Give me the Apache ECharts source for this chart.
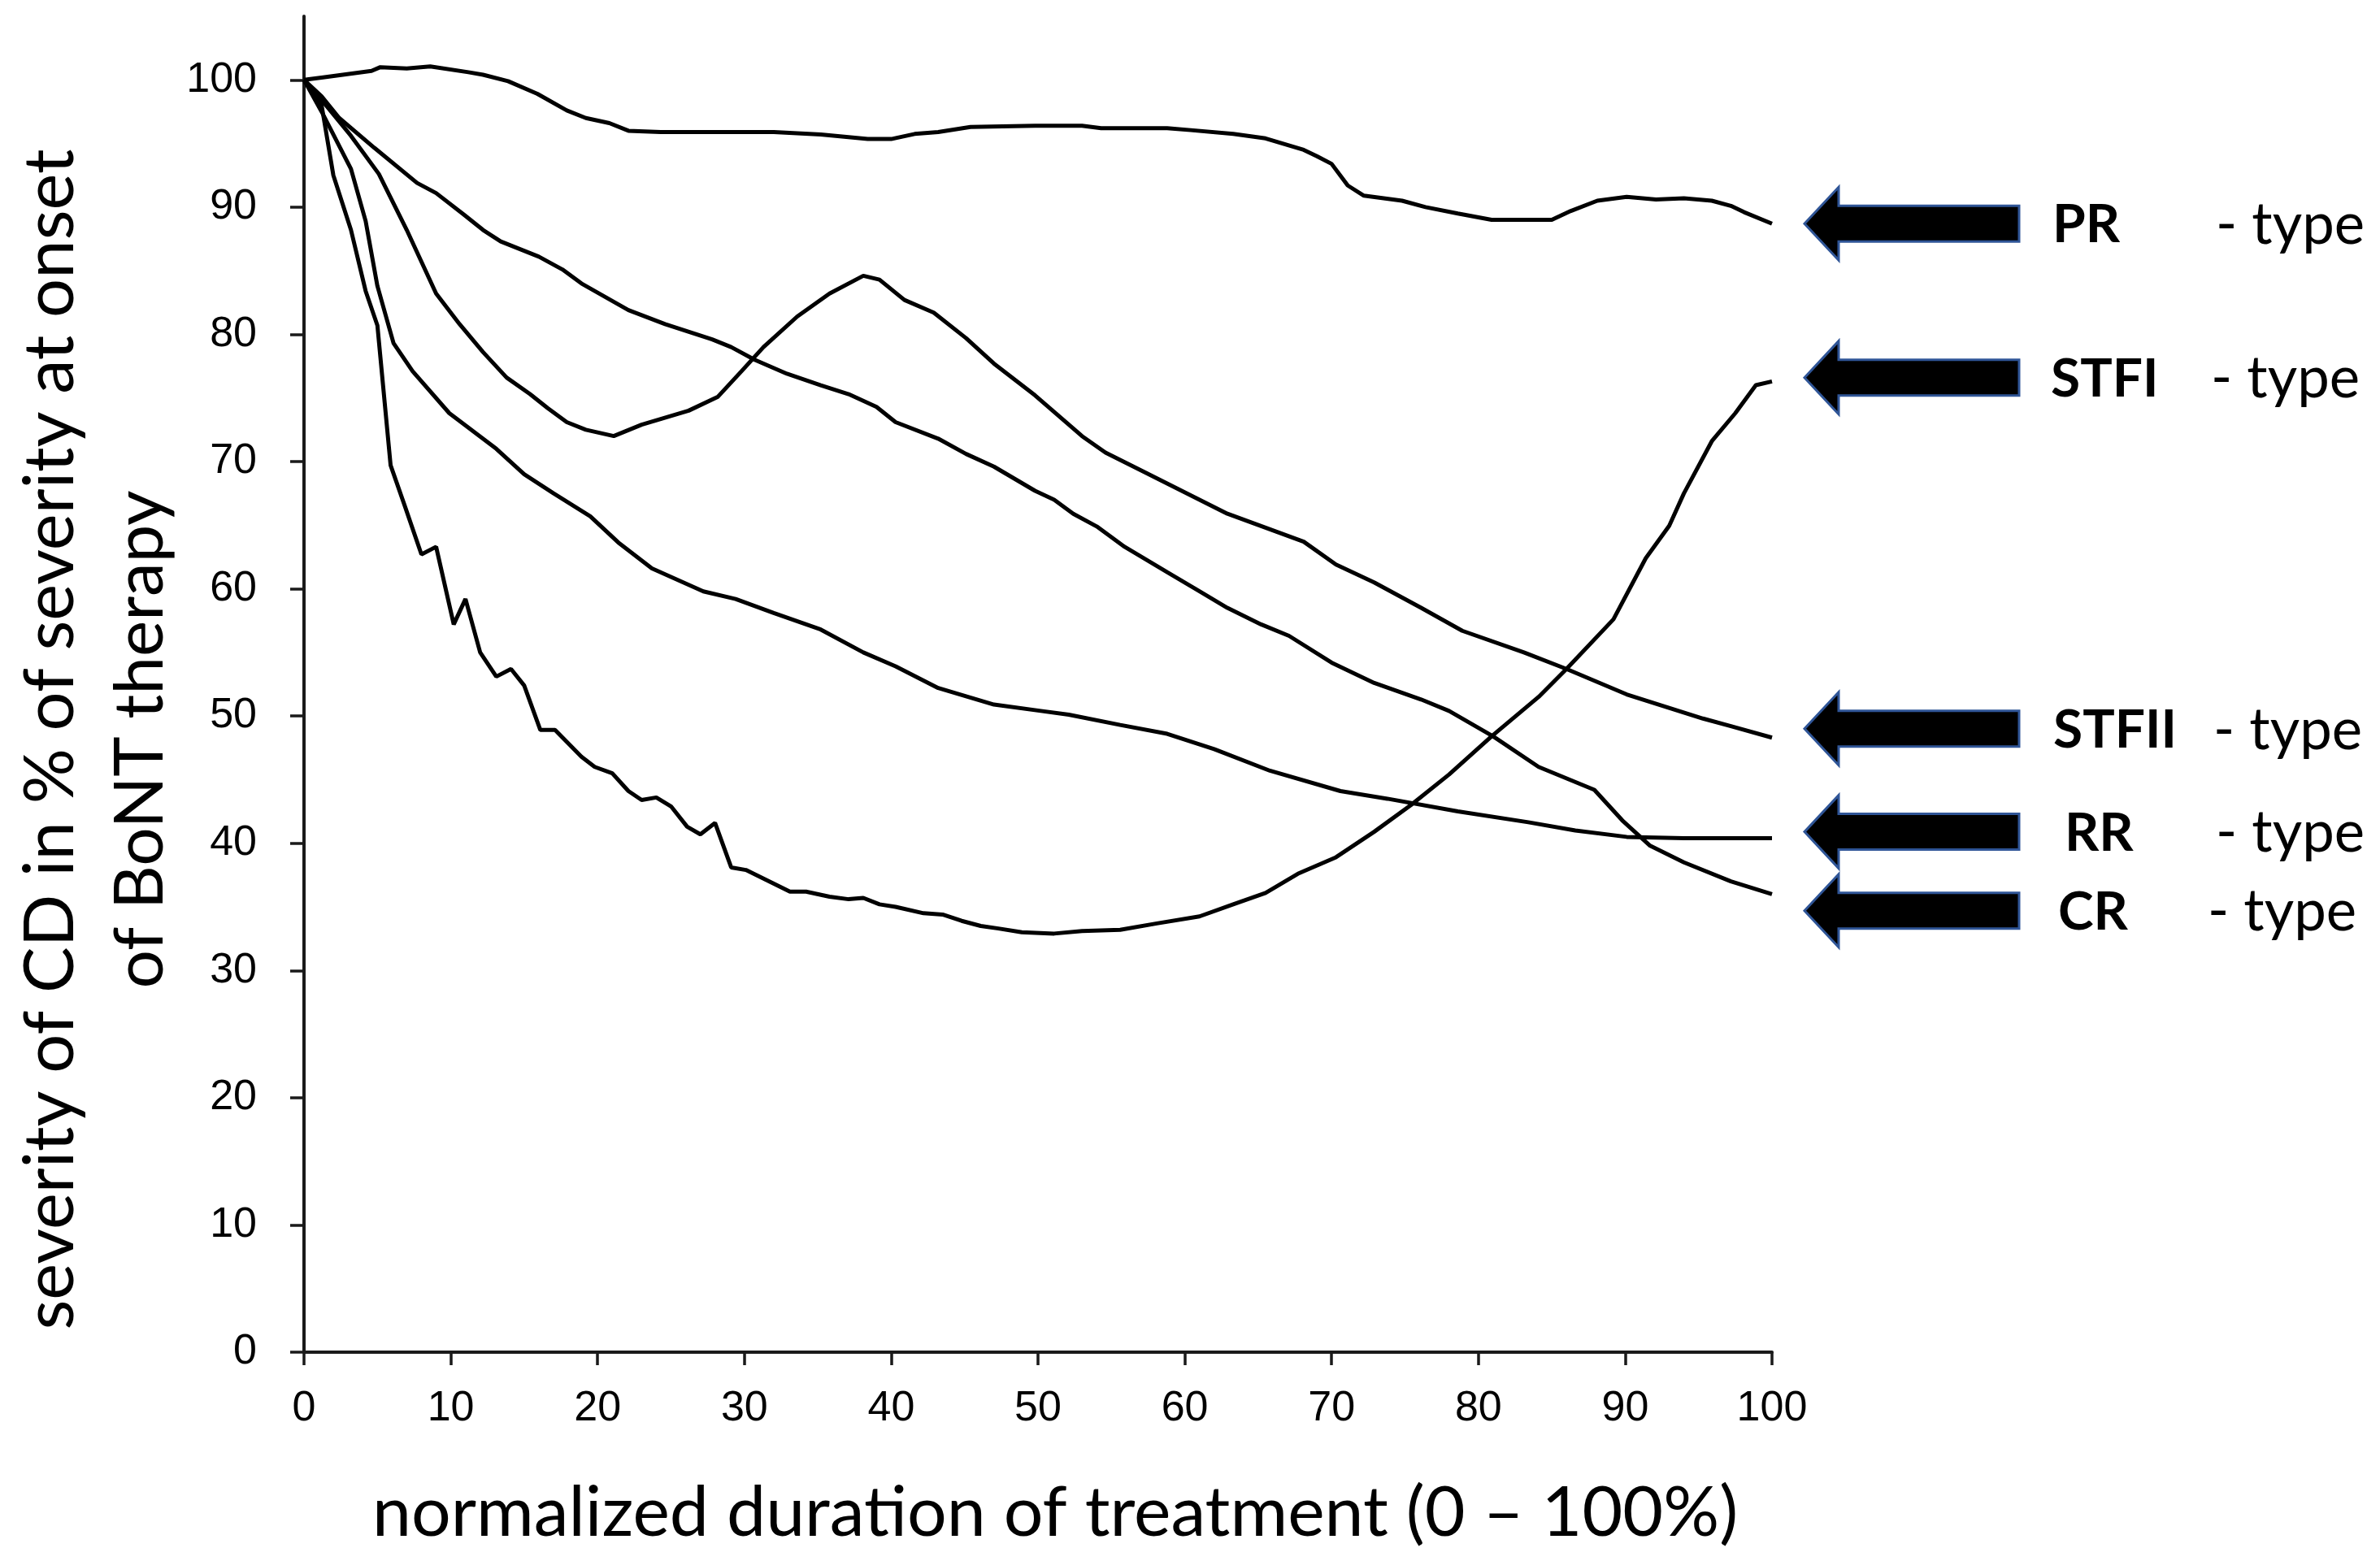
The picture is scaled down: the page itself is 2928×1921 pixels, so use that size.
<!DOCTYPE html>
<html>
<head>
<meta charset="utf-8">
<script src="https://cdn.jsdelivr.net/npm/echarts@6/dist/echarts.min.js"></script>
<style>
html,body{margin:0;padding:0;background:#fff;}
#chart{width:2928px;height:1921px;}
</style>
</head>
<body>
<div id="chart"></div>
<script>
// ---- data ----
const xTicks = [0,10,20,30,40,50,60,70,80,90,100];
const yTicks = [0,10,20,30,40,50,60,70,80,90,100];

const curvePR = [[0,100],[1.3,100.2],[4.6,100.7],[5.2,101.0],[7.0,100.9],[8.6,101.05],[11.2,100.6],[12.2,100.4],[13.9,99.9],[15.9,98.9],[17.9,97.6],[19.2,97.0],[20.8,96.6],[22.1,96.0],[24.3,95.9],[32.0,95.9],[35.2,95.7],[38.4,95.35],[40.0,95.35],[41.6,95.75],[43.2,95.9],[45.4,96.3],[49.8,96.4],[53.0,96.4],[54.3,96.2],[58.8,96.2],[60.4,96.05],[63.3,95.75],[65.5,95.4],[68.1,94.5],[69.0,94.0],[70.0,93.4],[71.1,91.7],[72.2,90.9],[74.8,90.5],[76.4,90.0],[78.6,89.5],[80.9,89.0],[85.0,89.0],[86.3,89.7],[88.1,90.5],[90.1,90.8],[92.1,90.6],[94.0,90.7],[95.9,90.5],[97.2,90.1],[98.1,89.6],[100,88.7]];

const curveSTFI = [[0,100],[1.2,98.0],[2.0,92.5],[3.2,88.2],[4.2,83.4],[5.0,80.7],[5.9,69.7],[6.9,66.4],[8.0,62.7],[9.0,63.3],[10.2,57.2],[11.0,59.2],[12.0,55.0],[13.1,53.1],[14.1,53.7],[15.0,52.4],[16.1,48.9],[17.1,48.9],[18.9,46.8],[19.8,46.0],[21.0,45.5],[22.1,44.1],[23.0,43.4],[24.0,43.6],[25.0,42.9],[26.1,41.3],[27.0,40.7],[28.0,41.6],[29.1,38.1],[30.1,37.9],[31.7,37.0],[33.1,36.2],[34.2,36.2],[35.8,35.8],[37.1,35.6],[38.1,35.7],[39.2,35.2],[40.3,35.0],[42.2,34.5],[43.5,34.4],[44.8,33.9],[46.1,33.5],[47.3,33.3],[48.9,33.0],[51.1,32.9],[53.0,33.1],[55.6,33.2],[58.1,33.7],[61.0,34.25],[63.3,35.2],[65.5,36.1],[67.7,37.6],[70.3,38.9],[72.9,40.9],[75.4,43.0],[78.0,45.4],[80.9,48.4],[84.1,51.5],[86.0,53.7],[89.2,57.6],[91.4,62.4],[93.0,64.95],[94.0,67.5],[95.9,71.6],[97.5,73.8],[98.9,76.0],[100,76.3]];

const curveSTFII = [[0,100],[1.5,98.0],[3.2,95.6],[5.1,92.6],[7.0,88.2],[9.0,83.2],[10.6,80.8],[12.2,78.6],[13.8,76.6],[15.4,75.3],[16.6,74.2],[17.9,73.1],[19.2,72.5],[21.1,72.0],[23.0,72.9],[26.2,74.0],[28.2,75.1],[29.8,77.1],[31.3,79.0],[33.6,81.4],[35.8,83.2],[38.1,84.6],[39.2,84.3],[40.9,82.7],[42.9,81.7],[45.1,79.7],[47.0,77.7],[49.8,75.2],[53.0,72.0],[54.6,70.7],[57.2,69.2],[59.1,68.1],[62.9,65.9],[65.5,64.8],[68.1,63.7],[70.3,61.9],[72.9,60.5],[76.1,58.5],[78.9,56.7],[83.1,55.0],[86.0,53.7],[90.1,51.7],[95.3,49.8],[97.2,49.2],[100,48.3]];

const curveRR = [[0,100],[1.2,97.5],[3.2,93.0],[4.2,88.9],[5.0,83.8],[6.1,79.3],[7.4,77.1],[9.9,73.8],[13.1,71.0],[15.0,69.0],[17.0,67.5],[19.5,65.7],[21.4,63.65],[23.7,61.6],[27.2,59.8],[29.4,59.2],[32.0,58.1],[35.2,56.8],[38.1,55.0],[40.3,53.9],[43.2,52.2],[47.0,50.9],[50.2,50.4],[52.1,50.1],[55.6,49.3],[58.8,48.6],[62.0,47.4],[65.8,45.7],[70.6,44.1],[73.8,43.5],[78.6,42.5],[83.4,41.65],[86.6,41.0],[90.1,40.5],[94.0,40.4],[100,40.4]];

const curveCR = [[0,100],[1.2,98.7],[2.4,97.0],[4.8,94.65],[7.7,91.9],[9.0,91.1],[10.9,89.4],[12.2,88.2],[13.4,87.3],[16.0,86.1],[17.6,85.1],[18.9,84.0],[22.1,81.9],[24.6,80.8],[27.8,79.6],[29.1,79.0],[30.7,78.0],[32.9,76.9],[35.2,76.0],[37.1,75.3],[39.0,74.3],[40.3,73.1],[43.2,71.8],[45.1,70.6],[47.0,69.6],[49.8,67.7],[51.1,67.0],[52.4,65.9],[54.0,64.9],[55.9,63.3],[58.8,61.3],[61.0,59.8],[62.9,58.5],[65.2,57.2],[67.1,56.3],[70.0,54.2],[72.9,52.6],[76.1,51.3],[78.0,50.4],[81.0,48.4],[84.1,46.0],[87.9,44.2],[89.8,41.8],[91.7,39.8],[94.0,38.5],[97.2,37.0],[100,36.0]];

const typeNames = ['PR','STFI','STFII','RR','CR'];
const typeLevels = [88.7, 76.6, 49.0, 40.9, 34.7];   // values the arrows point at
const typeSuffix = '- type';

const xTitle = 'normalized duration of treatment (0 \u2013 100%)';
const yTitle1 = 'severity of CD in % of severity at onset';
const yTitle2 = 'of BoNT therapy';

// ---- chart ----
const TITLE_FONT = 'Lato';
const mctx = document.createElement('canvas').getContext('2d');
function fitSize(text, weight, family, target){
  mctx.font = weight + ' 100px ' + family;
  return 100 * target / mctx.measureText(text).width;
}
const axisColor = '#1a1a1a';
const chart = echarts.init(document.getElementById('chart'), null, {renderer:'canvas'});
const curves = [curvePR, curveSTFI, curveSTFII, curveRR, curveCR];

chart.setOption({
  animation:false,
  backgroundColor:'#fff',
  grid:{left:374, right:748, top:20, bottom:257, containLabel:false},
  xAxis:{
    type:'value', min:0, max:100, interval:10,
    axisLine:{show:true, onZero:false, lineStyle:{color:axisColor, width:4}},
    axisTick:{show:true, length:16, customValues:xTicks, lineStyle:{color:axisColor, width:3.5}},
    axisLabel:{fontSize:52, fontFamily:'Liberation Sans', color:'#000', margin:44, customValues:xTicks},
    splitLine:{show:false}
  },
  yAxis:{
    type:'value', min:0, max:105, interval:5,
    axisLine:{show:true, onZero:false, lineStyle:{color:axisColor, width:4}},
    axisTick:{show:true, length:17, customValues:yTicks, lineStyle:{color:axisColor, width:3.5}},
    axisLabel:{fontSize:52, fontFamily:'Liberation Sans', color:'#000', margin:58, customValues:yTicks},
    splitLine:{show:false}
  },
  series: curves.map((c,i)=>({
    name:typeNames[i], type:'line', data:c, showSymbol:false, symbol:'none',
    smooth:false, lineStyle:{color:'#000', width:5}, z:3
  }))
});

const sX = fitSize(xTitle, 'normal', TITLE_FONT, 1680);
const sY1 = fitSize(yTitle1, 'normal', TITLE_FONT, 1453);
const sY2 = fitSize(yTitle2, 'normal', TITLE_FONT, 613);
const sB = fitSize('STFII', 'bold', TITLE_FONT, 152);
const sT = fitSize(typeSuffix, 'normal', TITLE_FONT, 183);

const labelLeft = [2525, 2523, 2526, 2540, 2532];
const suffixLeft = [2726, 2720, 2723, 2726, 2716];
const graphics = [
  {type:'text', x:1298, y:1862, style:{text:xTitle, font:'normal '+sX.toFixed(1)+'px '+TITLE_FONT, fill:'#000', align:'center', verticalAlign:'middle'}},
  {type:'text', x:63, y:910, rotation:Math.PI/2, style:{text:yTitle1, font:'normal '+sY1.toFixed(1)+'px '+TITLE_FONT, fill:'#000', align:'center', verticalAlign:'middle'}},
  {type:'text', x:173, y:910, rotation:Math.PI/2, style:{text:yTitle2, font:'normal '+sY2.toFixed(1)+'px '+TITLE_FONT, fill:'#000', align:'center', verticalAlign:'middle'}}
];
typeNames.forEach((n,i)=>{
  const cy = chart.convertToPixel({gridIndex:0}, [100, typeLevels[i]])[1];
  const tip = 2220, hb = 2262, end = 2484, hh = 45, sh = 22;
  graphics.push({type:'polygon', shape:{points:[[tip,cy],[hb,cy-hh],[hb,cy-sh],[end,cy-sh],[end,cy+sh],[hb,cy+sh],[hb,cy+hh]]},
    style:{fill:'#000', stroke:'#2f5597', lineWidth:3}});
  graphics.push({type:'text', x:labelLeft[i], y:cy+2, style:{text:n, font:'bold '+sB.toFixed(1)+'px '+TITLE_FONT, fill:'#000', align:'left', verticalAlign:'middle'}});
  graphics.push({type:'text', x:suffixLeft[i], y:cy+2, style:{text:typeSuffix, font:'normal '+sT.toFixed(1)+'px '+TITLE_FONT, fill:'#000', align:'left', verticalAlign:'middle'}});
});
chart.setOption({graphic:graphics});
</script>
</body>
</html>
